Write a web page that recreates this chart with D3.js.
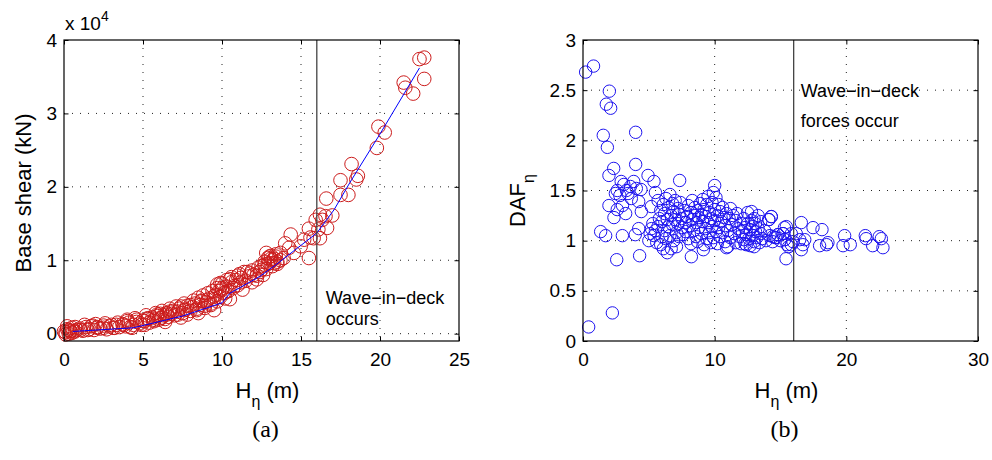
<!DOCTYPE html>
<html>
<head>
<meta charset="utf-8">
<script src="https://cdn.jsdelivr.net/npm/d3@7"></script>
<style>
  body { margin: 0; background: #fff; }
  text { font-family: "Liberation Sans", Arial, sans-serif; fill: #000; }
</style>
</head>
<body>
<script>
// ---- data ----
// (a) base shear [x 10^4 kN] against H_eta [m], pairs [H, shear]
var shearPts = [
  [0.1,0.02],[0.2,0.06],[0.3,0.00],[0.4,0.04],[0.5,0.08],[0.6,0.03],[0.8,0.05],[1.0,0.07],[1.2,0.04],[1.4,0.09],
  [1.6,0.06],[1.8,0.11],[1.9,0.05],[2.1,0.09],[2.3,0.07],[2.5,0.11],[2.7,0.06],[2.9,0.10],[3.1,0.08],[3.3,0.12],
  [3.5,0.09],[3.7,0.13],[3.9,0.10],[4.1,0.15],[4.2,0.09],[4.4,0.12],[4.6,0.16],[4.8,0.14],[5.0,0.18],[5.1,0.12],
  [5.3,0.20],[5.4,0.15],[5.6,0.22],[5.7,0.17],[5.9,0.24],[6.0,0.19],[6.1,0.27],[6.2,0.22],[6.3,0.25],[6.4,0.20],
  [6.5,0.28],[6.6,0.23],[6.8,0.27],[6.9,0.31],[7.0,0.25],[7.2,0.30],[7.3,0.34],[7.5,0.28],[7.7,0.33],[7.8,0.38],
  [8.0,0.31],[8.1,0.36],[8.3,0.41],[8.4,0.34],[8.6,0.39],[8.7,0.45],[8.9,0.38],[9.0,0.43],[9.2,0.48],[9.3,0.41],
  [9.5,0.47],[9.6,0.53],[9.7,0.44],[9.8,0.58],[9.9,0.50],[10.0,0.62],[10.1,0.55],[10.2,0.48],[10.3,0.64],[10.4,0.58],
  [10.6,0.70],[10.7,0.62],[10.9,0.73],[11.0,0.66],[11.2,0.76],[11.3,0.60],[11.5,0.72],[11.7,0.78],[11.9,0.70],[12.0,0.80],
  [12.2,0.74],[12.4,0.84],[12.5,0.92],[12.6,0.80],[12.7,0.98],[12.8,0.88],[12.9,1.03],[13.0,0.96],[13.1,1.06],[13.2,0.92],
  [13.3,1.02],[13.4,1.08],[13.5,0.95],[13.7,1.00],
  [0.2,0.10],[0.7,0.09],[1.3,0.12],[2.0,0.13],[2.6,0.14],[3.4,0.15],[4.0,0.19],[4.5,0.21],[5.2,0.25],[5.8,0.28],
  [6.2,0.31],[6.7,0.34],[7.1,0.37],[7.6,0.41],[8.2,0.45],[8.5,0.49],[8.8,0.52],[9.1,0.55],[9.4,0.58],[9.7,0.67],
  [10.0,0.68],[10.5,0.74],[11.1,0.81],[11.4,0.84],[11.9,0.86],[12.3,0.90],[6.4,0.16],[7.4,0.22],[8.5,0.28],[10.5,0.47],
  [22.5,3.74],[22.8,3.76],[22.8,3.47],[21.5,3.42],[21.6,3.35],[22.1,3.27],[19.9,2.82],[20.3,2.74],[19.8,2.53],[18.2,2.31],
  [17.5,2.09],[18.6,2.15],[18.5,2.10],[17.5,1.89],[18.0,1.89],[16.6,1.84],[16.55,1.60],[16.98,1.61],[16.35,1.55],[16.2,1.62],
  [16.65,1.44],[15.93,1.55],[16.1,1.42],[15.8,1.30],[16.2,1.30],[15.5,1.43],[15.6,1.31],[15.5,1.03],[15.2,1.28],[14.98,1.19],
  [14.35,1.35],[14.0,1.23],[14.25,1.17],[14.55,1.10],[13.7,1.10],[13.9,1.03],[13.5,0.98],[13.3,0.96],[13.0,1.05],[13.2,1.00],
  [12.8,1.10],[13.4,1.05],[12.9,0.95],[13.1,1.02],[12.7,0.94],[12.5,0.87],[12.2,0.79],[11.8,0.82],[11.6,0.84],[11.0,0.79],
  [10.6,0.77],[11.2,0.70],[10.8,0.65],[10.3,0.73],[9.9,0.69],[9.7,0.62],[10.2,0.56],[10.0,0.60],[9.5,0.51],[9.1,0.46],
  [8.7,0.44],[9.3,0.39],[8.9,0.35],[8.4,0.32],[9.5,0.32],[8.0,0.39],[7.6,0.32],[7.4,0.37],[7.8,0.26],[7.2,0.26],
  [6.5,0.26],[6.1,0.21],[5.7,0.19],[6.7,0.30],[5.9,0.26],[5.3,0.21],[5.1,0.17],[4.9,0.12],[4.6,0.19],[4.0,0.17],
  [4.3,0.08],[3.8,0.12],[3.2,0.08],[3.0,0.12],[2.5,0.08],[2.1,0.08],[1.7,0.10],[1.5,0.05],[1.05,0.05],[0.7,0.03],
  [0.4,0.03],[0.1,-0.01],[0.3,0.05],[0.5,0.01],[0.0,0.03]
]
// (a) blue fitted line, [H, shear]
var fitPts = [
  [0.55,0.03],[4.4,0.08],[7.5,0.24],[10.0,0.42],[10.5,0.55],[12.4,0.78],[13.3,0.92],[16.0,1.37],
  [17.1,1.69],[18.1,2.06],[20.0,2.72],[22.5,3.62]
]
// (b) DAF_eta against H_eta [m], pairs [H, DAF]
var dafPts = [
  [0.2,2.68],[0.8,2.74],[2.0,2.49],[1.77,2.36],[2.1,2.32],[1.54,2.05],[1.85,1.93],[4.0,2.08],[4.0,1.76],[2.33,1.72],
  [1.97,1.65],[7.34,1.60],[4.94,1.65],[5.39,1.59],[2.9,1.59],[2.6,1.50],[2.46,1.47],[3.85,1.59],[4.05,1.52],[3.42,1.47],
  [3.67,1.42],[4.23,1.39],[1.97,1.35],[2.6,1.31],[2.35,1.23],[3.24,1.27],[4.43,1.29],[5.19,1.34],[1.34,1.09],[1.72,1.05],
  [2.99,1.05],[3.97,1.06],[4.23,1.12],[2.56,0.81],[4.3,0.85],[2.23,0.28],[0.43,0.14],[8.23,0.84],[9.14,0.91],[15.42,0.82],
  [16.58,1.18],[17.47,1.13],[18.15,1.11],[17.97,0.95],[18.5,0.96],[18.6,0.98],[19.87,1.05],[19.75,0.95],[20.3,0.96],[21.44,1.05],
  [21.5,1.02],[22.0,0.95],[22.5,1.04],[22.66,1.02],[22.78,0.93],[16.2,1.07],[16.46,1.01],[16.84,1.01],[16.7,0.96],[16.58,0.91],
  [15.82,1.07],[15.95,0.99],[15.62,0.94],[15.82,0.96],[15.44,1.14],[15.19,1.07],[15.32,1.01],[14.68,1.03],[14.43,1.04],[14.81,1.06],
  [14.3,1.24],[14.13,1.21],[3.1,1.56],[3.3,1.50],[3.6,1.54],[4.4,1.51],[3.0,1.35],[2.8,1.45],
  [5.0,1.00],[5.1,1.07],[5.2,1.12],[5.3,1.17],[5.4,1.05],[5.5,1.10],[5.6,0.98],[5.7,1.14],[5.8,1.22],[5.9,0.96],
  [5.5,1.48],[5.7,1.40],[5.9,1.30],[6.0,1.04],[6.0,1.19],[6.1,1.36],[6.1,0.92],[6.2,1.27],[6.2,1.10],[6.3,1.42],
  [6.3,1.02],[6.4,1.21],[6.4,0.88],[6.5,1.33],[6.5,1.14],[6.6,1.05],[6.6,1.46],[6.7,1.25],[6.7,0.92],[6.8,1.37],
  [6.8,1.16],[6.9,1.00],[6.9,1.29],[7.0,1.21],[7.0,1.40],[7.1,1.08],[7.1,0.94],[7.2,1.32],[7.2,1.17],[7.3,1.26],
  [7.3,1.04],[7.4,1.38],[7.5,1.13],[7.5,1.22],[7.6,1.06],[7.7,1.30],[7.8,1.18],[7.8,1.09],[7.9,1.24],[8.0,1.02],
  [8.0,1.35],[8.1,1.15],[8.2,1.28],[8.2,0.97],[8.3,1.40],[8.3,1.21],[8.4,1.10],[8.5,1.25],[8.5,1.33],[8.6,1.04],
  [8.6,1.18],[8.7,0.99],[8.7,1.30],[8.8,1.23],[8.8,1.13],[8.9,1.37],[9.0,1.07],[9.0,1.26],[9.1,1.19],[9.1,1.41],
  [9.2,0.96],[9.2,1.31],[9.3,1.12],[9.3,1.24],[9.4,1.02],[9.4,1.36],[9.5,1.18],[9.5,1.44],[9.6,1.08],[9.6,1.28],
  [9.7,0.98],[9.7,1.22],[9.8,1.38],[9.8,1.14],[9.9,1.03],[9.9,1.48],[10.0,1.31],[10.0,1.55],[10.0,1.20],[10.1,1.09],
  [10.1,1.43],[10.2,0.97],[10.2,1.25],[10.3,1.36],[10.3,1.13],[10.4,1.04],[10.4,1.29],[10.5,1.19],[10.6,1.08],[10.6,1.33],
  [10.7,1.23],[10.8,0.99],[10.8,1.15],[10.9,1.27],[11.0,0.94],[11.0,1.10],[11.1,1.22],[11.2,1.03],[11.2,1.32],[11.3,1.16],
  [11.4,1.25],[11.5,1.07],[11.6,1.20],[11.6,0.98],[11.7,1.27],[11.8,1.12],[11.9,1.04],[12.0,1.17],[12.0,0.97],[12.1,1.09],
  [12.2,1.22],[12.2,1.01],[12.3,1.13],[12.4,0.96],[12.4,1.06],[12.5,1.28],[12.5,1.17],[12.6,1.02],[12.7,1.11],[12.7,0.95],
  [12.8,1.20],[12.8,1.29],[12.9,1.05],[12.9,1.14],[13.0,0.99],[13.0,1.22],[13.1,1.09],[13.1,1.17],[13.2,1.03],[13.3,1.25],
  [13.3,1.12],[13.4,0.98],[13.5,1.07],[13.5,1.19],[13.6,1.02],[13.8,1.10],[13.9,1.00],[14.1,1.21],[14.2,1.05],[14.3,1.24],
  [14.4,0.99],[14.6,1.03],[14.8,1.06],[15.0,1.00],[15.2,1.07],[15.3,1.13],[15.5,0.96],[10.9,0.93],[13.0,0.94],[12.3,0.97]
]
var shearXTicks = [0, 5, 10, 15, 20, 25]
var shearYTicks = [0, 1, 2, 3, 4]
var dafXTicks = [0, 10, 20, 30]
var dafYTicks = [0, 0.5, 1, 1.5, 2, 2.5, 3]
var deckH = 16   // wave-in-deck threshold

// ---- drawing ----
var width = 992, height = 460
var svg = d3.select('body').append('svg').attr('width', width).attr('height', height)

function panel(o) {
  var x = d3.scaleLinear().domain(o.xDomain).range([o.left, o.right])
  var y = d3.scaleLinear().domain(o.yDomain).range([o.bottom, o.top])
  var g = svg.append('g')

  // dotted grid
  g.selectAll('.gx').data(o.xTicks.filter(function(d){ return d > o.xDomain[0] && d < o.xDomain[1] }))
    .enter().append('line')
    .attr('x1', function(d){ return x(d) }).attr('x2', function(d){ return x(d) })
    .attr('y1', o.top).attr('y2', o.bottom)
    .attr('stroke', '#222').attr('stroke-width', 1).attr('stroke-dasharray', '1,7')
  g.selectAll('.gy').data(o.yTicks.filter(function(d){ return d > o.yDomain[0] && d < o.yDomain[1] }))
    .enter().append('line')
    .attr('y1', function(d){ return y(d) }).attr('y2', function(d){ return y(d) })
    .attr('x1', o.left).attr('x2', o.right)
    .attr('stroke', '#222').attr('stroke-width', 1).attr('stroke-dasharray', '1,7')

  // ticks inside on all four sides
  var tk = 4.5
  g.append('g').attr('transform', 'translate(0,' + o.bottom + ')')
    .call(d3.axisBottom(x).tickValues(o.xTicks).tickSize(-tk).tickPadding(12).tickFormat(d3.format('')))
  g.append('g').attr('transform', 'translate(' + o.left + ',0)')
    .call(d3.axisLeft(y).tickValues(o.yTicks).tickSize(-tk).tickPadding(7).tickFormat(d3.format('')))
  g.append('g').attr('transform', 'translate(0,' + o.top + ')')
    .call(d3.axisTop(x).tickValues(o.xTicks).tickSize(-tk).tickFormat(''))
  g.append('g').attr('transform', 'translate(' + o.right + ',0)')
    .call(d3.axisRight(y).tickValues(o.yTicks).tickSize(-tk).tickFormat(''))
  g.selectAll('.domain').remove()
  g.selectAll('.tick line').attr('stroke', '#000')
  g.selectAll('.tick text').style('font-size', '19px').style('font-family', '"Liberation Sans", Arial, sans-serif')

  // markers
  g.append('g').selectAll('circle').data(o.points).enter().append('circle')
    .attr('cx', function(d){ return x(d[0]) }).attr('cy', function(d){ return y(d[1]) })
    .attr('r', o.r).attr('fill', 'none').attr('stroke', o.color).attr('stroke-width', 1)

  if (o.fit) {
    g.append('path').datum(o.fit)
      .attr('d', d3.line().x(function(d){ return x(d[0]) }).y(function(d){ return y(d[1]) }))
      .attr('fill', 'none').attr('stroke', '#0000ff').attr('stroke-width', 1)
  }

  // wave-in-deck line
  g.append('line').attr('x1', x(deckH)).attr('x2', x(deckH)).attr('y1', o.top).attr('y2', o.bottom)
    .attr('stroke', '#444').attr('stroke-width', 1.3)

  // box
  g.append('rect').attr('x', o.left).attr('y', o.top)
    .attr('width', o.right - o.left).attr('height', o.bottom - o.top)
    .attr('fill', 'none').attr('stroke', '#000').attr('stroke-width', 1.2)

  // note text
  o.note.forEach(function(t, i){
    g.append('text').attr('x', x(deckH) + o.noteDx).attr('y', o.noteY + i * o.noteGap)
      .style('font-size', '18px').text(t)
  })

  // x label  H_eta (m)
  var xl = g.append('text').attr('x', (o.left + o.right) / 2 + 6).attr('y', 398)
    .attr('text-anchor', 'middle').style('font-size', '22px')
  xl.append('tspan').text('H')
  xl.append('tspan').attr('dy', 9).style('font-size', '16px').text('η')
  xl.append('tspan').attr('dy', -9).text(' (m)')

  // panel caption
  g.append('text').attr('x', (o.left + o.right) / 2 + 4).attr('y', 437)
    .attr('text-anchor', 'middle').style('font-size', '24px')
    .style('font-family', '"Liberation Serif", "Times New Roman", serif').text(o.caption)

  return g
}

var gA = panel({
  left: 64, right: 459, top: 40, bottom: 341,
  xDomain: [0, 25], yDomain: [-0.1, 4],
  xTicks: shearXTicks, yTicks: shearYTicks,
  points: shearPts, r: 6.8, color: '#cc1c1c', fit: fitPts,
  note: ['Wave\u2212in\u2212deck', 'occurs'], noteDx: 9, noteY: 304, noteGap: 21,
  caption: '(a)'
})
// y label and exponent for (a)
gA.append('text').attr('transform', 'translate(31,193) rotate(-90)')
  .attr('text-anchor', 'middle').style('font-size', '22px').text('Base shear (kN)')
var ex = gA.append('text').attr('x', 65).attr('y', 30).style('font-size', '19px')
ex.append('tspan').text('x 10')
ex.append('tspan').attr('dy', -9).style('font-size', '14px').text('4')

var gB = panel({
  left: 583, right: 978, top: 40, bottom: 341,
  xDomain: [0, 30], yDomain: [0, 3],
  xTicks: dafXTicks, yTicks: dafYTicks,
  points: dafPts, r: 6.2, color: '#1e14f0', fit: null,
  note: ['Wave\u2212in\u2212deck', 'forces occur'], noteDx: 7, noteY: 97, noteGap: 30,
  caption: '(b)'
})
// y label DAF_eta
var yl = gB.append('text').attr('transform', 'translate(525,227) rotate(-90)')
  .style('font-size', '22px')
yl.append('tspan').text('DAF')
yl.append('tspan').attr('dy', 9).style('font-size', '16px').text('η')
</script>
</body>
</html>
